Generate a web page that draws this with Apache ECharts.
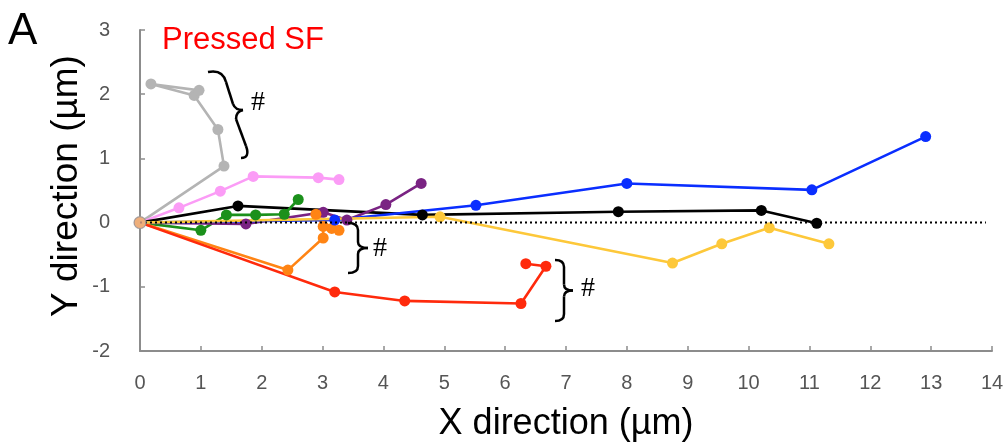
<!DOCTYPE html>
<html>
<head>
<meta charset="utf-8">
<script src="https://cdn.jsdelivr.net/npm/echarts@6/dist/echarts.min.js"></script>
<style>
html,body{margin:0;padding:0;background:#fff;}
#chart{width:1007px;height:444px;}
</style>
</head>
<body>
<div id="chart"></div>
<script>
// ---- data (µm) ----
var xTicks = [0,1,2,3,4,5,6,7,8,9,10,11,12,13,14];
var yTicks = [-2,-1,0,1,2,3];
var grayTrack   = [[0,0],[1.38,0.88],[1.28,1.45],[0.89,1.98],[0.18,2.16],[0.97,2.06]];
var pinkTrack   = [[0,0],[0.64,0.23],[1.32,0.49],[1.86,0.72],[2.93,0.70],[3.27,0.67]];
var blackTrack  = [[0,0],[1.61,0.26],[4.64,0.12],[7.86,0.17],[10.21,0.19],[11.12,-0.01]];
var greenTrack  = [[0,0],[1.00,-0.12],[1.42,0.12],[1.90,0.12],[2.37,0.13],[2.60,0.36]];
var purpleTrack = [[0,0],[1.74,-0.02],[3.01,0.16],[3.40,0.04],[4.04,0.28],[4.62,0.61]];
var orangeTrack = [[0,0],[2.43,-0.74],[3.01,-0.24],[3.01,-0.06],[2.89,0.13],[3.15,-0.09],[3.27,-0.12]];
var redTrack    = [[0,0],[3.20,-1.08],[4.35,-1.22],[6.26,-1.26],[6.67,-0.68],[6.34,-0.64]];
var blueTrack   = [[0,0],[3.20,0.04],[5.52,0.27],[8.00,0.61],[11.04,0.51],[12.91,1.34]];
var yellowTrack = [[0,0],[4.93,0.09],[8.75,-0.63],[9.56,-0.33],[10.34,-0.08],[11.32,-0.33]];
var zeroLine    = [[0,0],[13.9,0]];
var originPoint = [[0,0]];

var tracks = [
  {name:'gray',   data:grayTrack,   color:'#b4b4b4'},
  {name:'pink',   data:pinkTrack,   color:'#fb9cf6'},
  {name:'black',  data:blackTrack,  color:'#000000'},
  {name:'green',  data:greenTrack,  color:'#1b901b'},
  {name:'purple', data:purpleTrack, color:'#7a2383'},
  {name:'orange', data:orangeTrack, color:'#ff8414'},
  {name:'red',    data:redTrack,    color:'#ff2a0c'},
  {name:'blue',   data:blueTrack,   color:'#0a2eff'},
  {name:'yellow', data:yellowTrack, color:'#fdc83a'}
];

var series = tracks.map(function(t){
  return {
    name:t.name, type:'line', data:t.data, symbol:'circle', symbolSize:11,
    lineStyle:{color:t.color, width:2.6}, itemStyle:{color:t.color},
    animation:false, silent:true
  };
});
series.push({
  name:'zero', type:'line', data:zeroLine, symbol:'none',
  lineStyle:{color:'#000', width:2, type:[2,3]}, animation:false, z:5
});
series.push({
  name:'origin', type:'scatter', data:originPoint, symbolSize:12,
  itemStyle:{color:'#eaa98c', borderColor:'#9a9a9a', borderWidth:1.2}, z:6, animation:false
});

// brace annotation shapes (pixel drawing, not data)
function braceElems(segs){
  var out = [];
  segs.forEach(function(s){
    if (s.length === 4) {
      out.push({type:'line', shape:{x1:s[0],y1:s[1],x2:s[2],y2:s[3]}, style:{stroke:'#000', lineWidth:2.5}, z:10});
    } else {
      out.push({type:'bezierCurve', shape:{x1:s[0],y1:s[1],cpx1:s[2],cpy1:s[3],cpx2:s[4],cpy2:s[5],x2:s[6],y2:s[7]},
        style:{stroke:'#000', lineWidth:2.5, fill:null}, z:10});
    }
  });
  return out;
}
function vBrace(x0, y0, y1, w){
  var xm = x0 + w*0.5, ym = (y0+y1)/2, tip = x0 + w;
  return braceElems([
    [x0,y0, x0+w*0.35,y0, xm,y0+2, xm,y0+7],
    [xm,y0+7, xm,ym-6],
    [xm,ym-6, xm,ym-2, xm+w*0.15,ym, tip,ym],
    [tip,ym, xm+w*0.15,ym, xm,ym+2, xm,ym+6],
    [xm,ym+6, xm,y1-7],
    [xm,y1-7, xm,y1-2, x0+w*0.35,y1, x0,y1]
  ]);
}
var brace1 = braceElems([
  [208,72, 218,70, 224,74, 226,82],
  [226,82, 233,104],
  [233,104, 235,109, 238,110, 243,110],
  [243,110, 238,111, 236,114, 236,119],
  [236,119, 246,146],
  [246,146, 249,154, 247,158, 241,158]
]);

var axisCol = '#8c8c8c';
var chart = echarts.init(document.getElementById('chart'), null, {renderer:'canvas'});
chart.setOption({
  backgroundColor:'#fff',
  animation:false,
  grid:{left:140, right:15, top:30, bottom:93, containLabel:false, outerBoundsMode:'none'},
  xAxis:{
    type:'value', min:xTicks[0], max:xTicks[xTicks.length-1], interval:1,
    axisLine:{show:true, onZero:false, lineStyle:{color:axisCol, width:2}},
    axisTick:{show:true, inside:true, length:5, lineStyle:{color:axisCol, width:1.5}},
    splitLine:{show:false},
    axisLabel:{color:'#555555', fontSize:20, fontFamily:'Liberation Sans', margin:22},
    name:'X direction (µm)', nameLocation:'middle', nameGap:55,
    nameTextStyle:{color:'#000', fontSize:36, fontFamily:'Liberation Sans'}
  },
  yAxis:{
    type:'value', min:yTicks[0], max:yTicks[yTicks.length-1], interval:1,
    axisLine:{show:true, onZero:false, lineStyle:{color:axisCol, width:2}},
    axisTick:{show:true, inside:true, length:5, lineStyle:{color:axisCol, width:1.5}},
    splitLine:{show:false},
    axisLabel:{color:'#555555', fontSize:20, fontFamily:'Liberation Sans', margin:30}
  },
  graphic:[].concat(
    [
      {type:'text', x:8, y:10, style:{text:'A', fontSize:44, fontFamily:'Liberation Sans', fill:'#000'}},
      {type:'text', x:162, y:25, style:{text:'Pressed SF', fontSize:31, fontFamily:'Liberation Sans', fill:'#ff0000'}},
      {type:'text', x:67, y:186, rotation:Math.PI/2,
        style:{text:'Y direction (µm)', fontSize:37, fontFamily:'Liberation Sans', fill:'#000', align:'center', verticalAlign:'middle'}},
      {type:'text', x:258, y:103, style:{text:'#', fontSize:28, fontFamily:'Liberation Serif', fill:'#000', align:'center', verticalAlign:'middle'}},
      {type:'text', x:380, y:249, style:{text:'#', fontSize:28, fontFamily:'Liberation Serif', fill:'#000', align:'center', verticalAlign:'middle'}},
      {type:'text', x:588, y:289, style:{text:'#', fontSize:28, fontFamily:'Liberation Serif', fill:'#000', align:'center', verticalAlign:'middle'}}
    ],
    brace1,
    vBrace(348, 223, 273, 20),
    vBrace(555, 260, 321, 18)
  ),
  series:series
});
</script>
</body>
</html>
